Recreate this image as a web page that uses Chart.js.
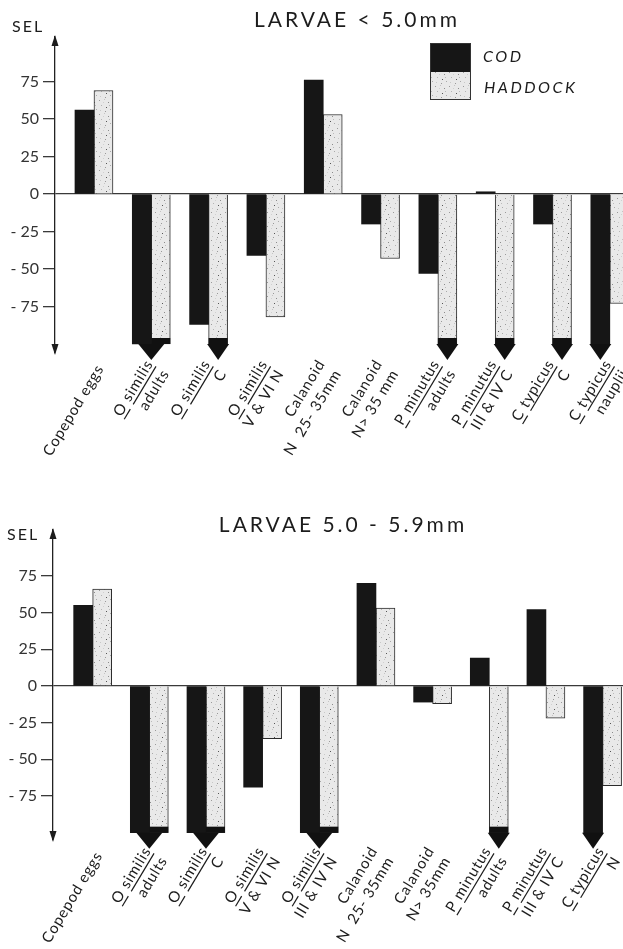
<!DOCTYPE html>
<html>
<head>
<meta charset="utf-8">
<script src="https://cdn.jsdelivr.net/npm/chart.js@4.4.1/dist/chart.umd.min.js"></script>
<style>
  html, body { margin: 0; padding: 0; background: #fff; width: 623px; height: 949px; overflow: hidden; }
  .panel { position: absolute; left: 0; width: 623px; }
  #top { top: 0; height: 490px; }
  #bottom { top: 490px; height: 459px; }
  canvas { display: block; }
</style>
</head>
<body>
<div class="panel" id="top"><canvas id="c1" width="623" height="490"></canvas></div>
<div class="panel" id="bottom"><canvas id="c2" width="623" height="459"></canvas></div>
<script>
// Selectivity beyond the axis: bars are drawn to this value and get an arrowhead.
const OFF_SCALE = -100;

const SERIES = ['COD', 'HADDOCK'];
const Y_TICKS = [-75, -50, -25, 0, 25, 50, 75];
const TITLE_A = 'LARVAE < 5.0mm';
const TITLE_B = 'LARVAE 5.0 - 5.9mm';

// Prey categories; text between underscores is underlined (italic names).
const LABELS_A = [
  ['Copepod eggs'],
  ['_O_ _similis_', 'adults'],
  ['_O_ _similis_', 'C'],
  ['_O_ _similis_', 'V & VI N'],
  ['Calanoid', 'N  25- 35mm'],
  ['Calanoid', 'N> 35 mm'],
  ['_P_ _minutus_', 'adults'],
  ['_P_ _minutus_', 'III & IV C'],
  ['_C_ _typicus_', 'C'],
  ['_C_ _typicus_', 'nauplii']
];
const COD_A     = [56, OFF_SCALE, -87, -41, 76, -20, -53, 1.5, -20, OFF_SCALE];
const HADDOCK_A = [69, OFF_SCALE, OFF_SCALE, -82, 53, -43, OFF_SCALE, OFF_SCALE, OFF_SCALE, -73];

const LABELS_B = [
  ['Copepod eggs'],
  ['_O_ _similis_', 'adults'],
  ['_O_ _similis_', 'C'],
  ['_O_ _similis_', 'V & VI N'],
  ['_O_ _similis_', 'III & IV N'],
  ['Calanoid', 'N  25- 35mm'],
  ['Calanoid', 'N> 35mm'],
  ['_P_ _minutus_', 'adults'],
  ['_P_ _minutus_', 'III & IV C'],
  ['_C_ _typicus_', 'N']
];
const COD_B     = [55, OFF_SCALE, OFF_SCALE, -69, OFF_SCALE, 70, -11, 19, 52, OFF_SCALE];
const HADDOCK_B = [66, OFF_SCALE, OFF_SCALE, -36, OFF_SCALE, 53, -12, OFF_SCALE, -22, -68];

const INK = '#1c1c1c';
const FONT = 'Lato, "Open Sans", sans-serif';

// light grey stipple used for haddock bars
function makeStipple() {
  const c = document.createElement('canvas');
  c.width = 14; c.height = 14;
  const g = c.getContext('2d');
  g.fillStyle = '#e9e9e9';
  g.fillRect(0, 0, 14, 14);
  const dots = [[1,2,'#9a9a9a'],[6,1,'#c4c4c4'],[10,4,'#8c8c8c'],[3,7,'#b5b5b5'],[8,9,'#555'],
                [12,11,'#aaa'],[2,12,'#c8c8c8'],[5,4,'#d0d0d0'],[11,7,'#bbb'],[7,13,'#999']];
  dots.forEach(([x, y, col]) => { g.fillStyle = col; g.fillRect(x, y, 1, 1); });
  return g.createPattern(c, 'repeat');
}
const STIPPLE = makeStipple();

function drawRichLine(ctx, line, xRight, y) {
  const segs = line.split('_').map((t, k) => ({ t, u: k % 2 === 1, w: ctx.measureText(t).width }));
  const total = segs.reduce((a, s) => a + s.w, 0);
  let x = xRight - total;
  segs.forEach(s => {
    if (s.t) {
      ctx.fillText(s.t, x, y);
      if (s.u) ctx.fillRect(x, y + 3, s.w - 1, 1.2);
    }
    x += s.w;
  });
}

function arrowHead(ctx, cx, y, w) {
  ctx.beginPath();
  ctx.moveTo(cx - w / 2, y);
  ctx.lineTo(cx + w / 2, y);
  ctx.lineTo(cx, y + 16);
  ctx.closePath();
  ctx.fill();
}

const decor = {
  id: 'decor',
  afterDatasetsDraw(chart) {
    const o = chart.options.plugins.decor;
    const ctx = chart.ctx;
    const mc = chart.getDatasetMeta(0).data;
    const mh = chart.getDatasetMeta(1).data;
    ctx.save();
    ctx.fillStyle = '#111';
    o.cod.forEach((v, i) => {
      const offC = v <= OFF_SCALE, offH = o.had[i] <= OFF_SCALE;
      if (offH) {
        const b = mh[i];
        ctx.fillRect(b.x - b.width / 2, b.y - 6, b.width, 6);
      }
      if (offC && offH) arrowHead(ctx, (mc[i].x + mh[i].x) / 2, Math.max(mc[i].y, mh[i].y), 26);
      else if (offC) arrowHead(ctx, mc[i].x, mc[i].y, 22);
      else if (offH) arrowHead(ctx, mh[i].x, mh[i].y, 22);
    });
    ctx.restore();
  },
  afterDraw(chart) {
    const o = chart.options.plugins.decor;
    const ctx = chart.ctx;
    const area = chart.chartArea;
    const xs = chart.scales.x;
    ctx.save();
    ctx.fillStyle = INK;

    // arrowheads on the vertical axis
    const ax = area.left;
    ctx.beginPath();
    ctx.moveTo(ax, area.top - 2); ctx.lineTo(ax - 3.5, area.top + 9); ctx.lineTo(ax + 3.5, area.top + 9);
    ctx.closePath(); ctx.fill();
    ctx.beginPath();
    ctx.moveTo(ax, area.bottom + 2); ctx.lineTo(ax - 3.5, area.bottom - 9); ctx.lineTo(ax + 3.5, area.bottom - 9);
    ctx.closePath(); ctx.fill();

    // axis name
    ctx.font = '16px ' + FONT;
    ctx.letterSpacing = '2px';
    ctx.textAlign = 'left';
    ctx.textBaseline = 'middle';
    ctx.fillText('SEL', o.selX, o.selY);

    // title
    ctx.font = '21px ' + FONT;
    ctx.letterSpacing = '3px';
    ctx.textAlign = 'center';
    ctx.fillText(o.title, o.titleX, o.titleY);

    // category labels, rotated
    ctx.font = '15px ' + FONT;
    ctx.letterSpacing = '0.8px';
    ctx.textAlign = 'left';
    ctx.textBaseline = 'alphabetic';
    const ang = -59 * Math.PI / 180;
    o.labels.forEach((lines, i) => {
      const px = xs.getPixelForValue(i) + o.labelDx;
      const py = area.bottom + o.labelDy;
      ctx.save();
      ctx.translate(px, py);
      ctx.rotate(ang);
      const n = lines.length;
      lines.forEach((ln, k) => {
        const off = (k - (n - 1) / 2) * 19 + 5;
        drawRichLine(ctx, ln, 0, off);
      });
      ctx.restore();
    });

    // key
    if (o.legend) {
      const ds = chart.data.datasets;
      const lx = o.legend.x, ly = o.legend.y, bw = 41, bh = 29;
      ctx.fillStyle = ds[0].backgroundColor;
      ctx.fillRect(lx, ly, bw, bh);
      ctx.fillStyle = ds[1].backgroundColor;
      ctx.fillRect(lx, ly + bh, bw, bh - 1);
      ctx.strokeStyle = '#333';
      ctx.lineWidth = 1;
      ctx.strokeRect(lx + 0.5, ly + 0.5, bw - 1, 2 * bh - 2);
      ctx.fillStyle = INK;
      ctx.font = 'italic 16px ' + FONT;
      ctx.letterSpacing = '2.5px';
      ctx.textBaseline = 'middle';
      ctx.fillText(ds[0].label, lx + bw + 12, ly + 14);
      ctx.fillText(ds[1].label, lx + bw + 13, ly + 45);
    }
    ctx.restore();
  }
};

function makeChart(id, cfg) {
  return new Chart(document.getElementById(id), {
    type: 'bar',
    data: {
      datasets: [
        { label: SERIES[0], data: cfg.cod.map((v, i) => ({ x: i, y: v })),
          backgroundColor: '#161616', borderWidth: 0, barThickness: 19 },
        { label: SERIES[1], data: cfg.had.map((v, i) => ({ x: i, y: v })),
          backgroundColor: STIPPLE, borderColor: '#2b2b2b', borderWidth: 1, barThickness: 19 }
      ]
    },
    options: {
      responsive: false,
      animation: false,
      devicePixelRatio: 1,
      layout: { padding: { top: cfg.padTop, bottom: cfg.padBottom, left: 0, right: 0 } },
      plugins: {
        legend: { display: false },
        tooltip: { enabled: false },
        decor: {
          cod: cfg.cod, had: cfg.had, labels: cfg.labels, title: cfg.title,
          titleX: cfg.titleX, titleY: cfg.titleY, selX: cfg.selX, selY: cfg.selY,
          labelDx: 6, labelDy: 13, legend: cfg.legend || null
        }
      },
      scales: {
        x: { type: 'linear', display: false, offset: false, min: cfg.xMin, max: cfg.xMax },
        y: {
          min: cfg.yMin, max: cfg.yMax,
          afterFit: s => { s.width = cfg.axisX; },
          afterBuildTicks: s => { s.ticks = Y_TICKS.map(v => ({ value: v })); },
          ticks: {
            callback: v => (v < 0 ? '- ' + Math.abs(v) : String(v)),
            font: { family: FONT, size: 16 },
            color: '#333',
            padding: 4
          },
          grid: {
            color: c => (c.tick && c.tick.value === 0 ? '#3a3a3a' : 'rgba(0,0,0,0)'),
            tickColor: '#3a3a3a',
            tickLength: 12,
            lineWidth: 1.3
          },
          border: { color: '#222', width: 1.3 }
        }
      }
    },
    plugins: [decor]
  });
}

makeChart('c1', {
  cod: COD_A, had: HADDOCK_A, labels: LABELS_A, title: TITLE_A,
  titleX: 357, titleY: 20, selX: 12, selY: 27,
  padTop: 37, padBottom: 137, axisX: 55,
  xMin: -0.68, xMax: 9.23, yMin: -106, yMax: 104.7,
  legend: { x: 430, y: 43 }
});

makeChart('c2', {
  cod: COD_B, had: HADDOCK_B, labels: LABELS_B, title: TITLE_B,
  titleX: 343, titleY: 35, selX: 7, selY: 45,
  padTop: 40, padBottom: 109, axisX: 53,
  xMin: -0.70, xMax: 9.36, yMin: -105, yMax: 106.3
});
</script>
</body>
</html>
